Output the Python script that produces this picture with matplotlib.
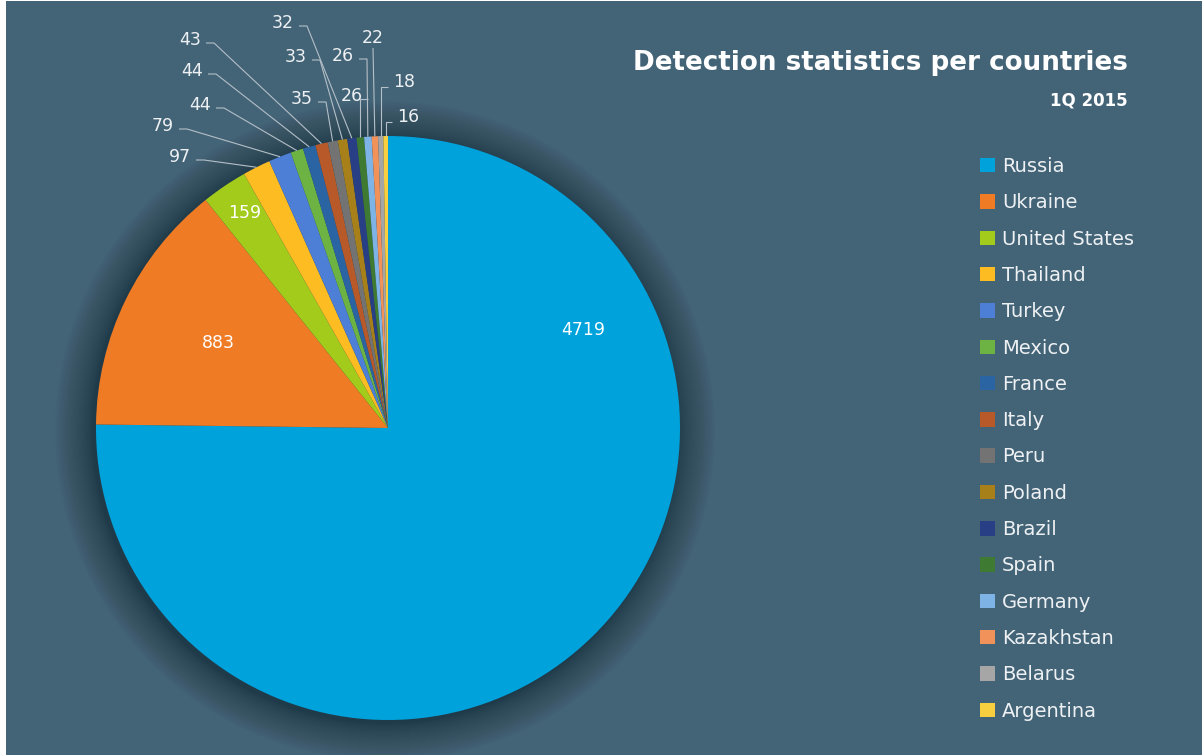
import matplotlib
matplotlib.use("Agg")
import matplotlib.pyplot as plt
from matplotlib.patches import Circle, Rectangle
import numpy as np

# ---------------- data ----------------
countries = ["Russia", "Ukraine", "United States", "Thailand", "Turkey", "Mexico",
             "France", "Italy", "Peru", "Poland", "Brazil", "Spain", "Germany",
             "Kazakhstan", "Belarus", "Argentina"]
detections = [4719, 883, 159, 97, 79, 44, 44, 43, 35, 33, 32, 26, 26, 22, 18, 16]
colors = ["#00a2dc", "#ef7b25", "#a3cb1c", "#fcbc22", "#4e7fd6", "#6db343",
          "#2a64a3", "#b8592a", "#737373", "#a7801a", "#283f86", "#3f7a33",
          "#7eb3e6", "#f0925a", "#a6a6a6", "#f8cf3e"]
title_text = "Detection statistics per countries"
subtitle_text = "1Q 2015"

# ---------------- layout (pixels, y measured from top) ----------------
W, H = 1202, 755
BG = "#436377"
CX, CY, R = 388, 428, 292
FONT = "DejaVu Sans"
# label positions (pixel centres) per country
label_pos = [(583, 330), (218, 343), (245, 213), (180, 157), (163, 126), (200, 105),
             (192, 71), (190, 40), (302, 99), (296, 57), (283, 23), (352, 96),
             (343, 56), (373, 38), (404, 82), (408, 117)]
inside = [True, True, True] + [False] * 13
label_side = [None, None, None, "r", "r", "r", "r", "r", "r", "r", "r", "r", "r", "b", "l", "l"]

def py(y):
    return H - y

fig = plt.figure(figsize=(W / 100, H / 100), dpi=100)
fig.patch.set_facecolor("white")
ax = fig.add_axes([0, 0, 1, 1])
ax.set_facecolor("white")

# background panel (thin white border at left like the reference)
ax.add_patch(Rectangle((6, 0), W - 6, H - 1, facecolor=BG, edgecolor="none", zorder=0))

# soft shadow around the pie
n = 36
for i in range(n):
    rr = R + 38 * (1 - i / n) ** 1.4
    ax.add_patch(Circle((CX - 3, py(CY) - 3), rr, facecolor="#0e1c26",
                        alpha=0.015, edgecolor="none", zorder=1))

wedges, _ = ax.pie(detections, colors=colors, startangle=90, counterclock=False,
                   radius=R, center=(CX, py(CY)),
                   wedgeprops=dict(linewidth=0))
for w in wedges:
    w.set_zorder(3)

ax.set_xlim(0, W)
ax.set_ylim(0, H)
ax.set_aspect("equal")
ax.axis("off")

total = float(sum(detections))
cum = 0.0
for i, v in enumerate(detections):
    mid = 90 - 360 * (cum + v / 2) / total
    cum += v
    lx, ly = label_pos[i]
    txt = str(v)
    if inside[i]:
        ax.text(lx, py(ly), txt, ha="center", va="center", color="white",
                fontsize=12.5, family=FONT, zorder=5)
        continue
    ax.text(lx, py(ly), txt, ha="center", va="center", color="#eef1f3",
            fontsize=12.5, family=FONT, zorder=5)
    rx = CX + R * np.cos(np.radians(mid))
    ry = py(CY) + R * np.sin(np.radians(mid))
    side = label_side[i]
    if side == "r":
        sx, sy = lx + 16, py(ly) - 3
        kx = min(sx + 8, rx)
        xs, ys = [sx, kx, rx], [sy, sy, ry]
    elif side == "l":
        sx, sy = lx - 16, py(ly) - 5
        kx = max(sx - 8, rx)
        xs, ys = [sx, kx, rx], [sy, sy, ry]
    else:
        sx, sy = lx, py(ly) - 10
        xs, ys = [sx, rx], [sy, ry]
    ax.plot(xs, ys, color="#b4bfc7", lw=0.8, zorder=4, solid_capstyle="butt")

# title
ax.text(1128, py(63), title_text, ha="right", va="center", color="white",
        fontsize=18.8, fontweight="bold", family=FONT, zorder=5)
ax.text(1128, py(100), subtitle_text, ha="right", va="center", color="white",
        fontsize=12, fontweight="bold", family=FONT, zorder=5)

# legend
leg = ax.legend(wedges, countries, loc="upper left",
                bbox_to_anchor=(980 / W, 1 - 157 / H), frameon=False,
                prop=dict(family=FONT, size=14),
                handlelength=0.77, handleheight=0.77, handletextpad=0.36,
                labelspacing=0.89, borderaxespad=0, borderpad=0)
for t in leg.get_texts():
    t.set_color("#eef1f3")

fig.savefig("out.png", dpi=100, facecolor=fig.get_facecolor())
